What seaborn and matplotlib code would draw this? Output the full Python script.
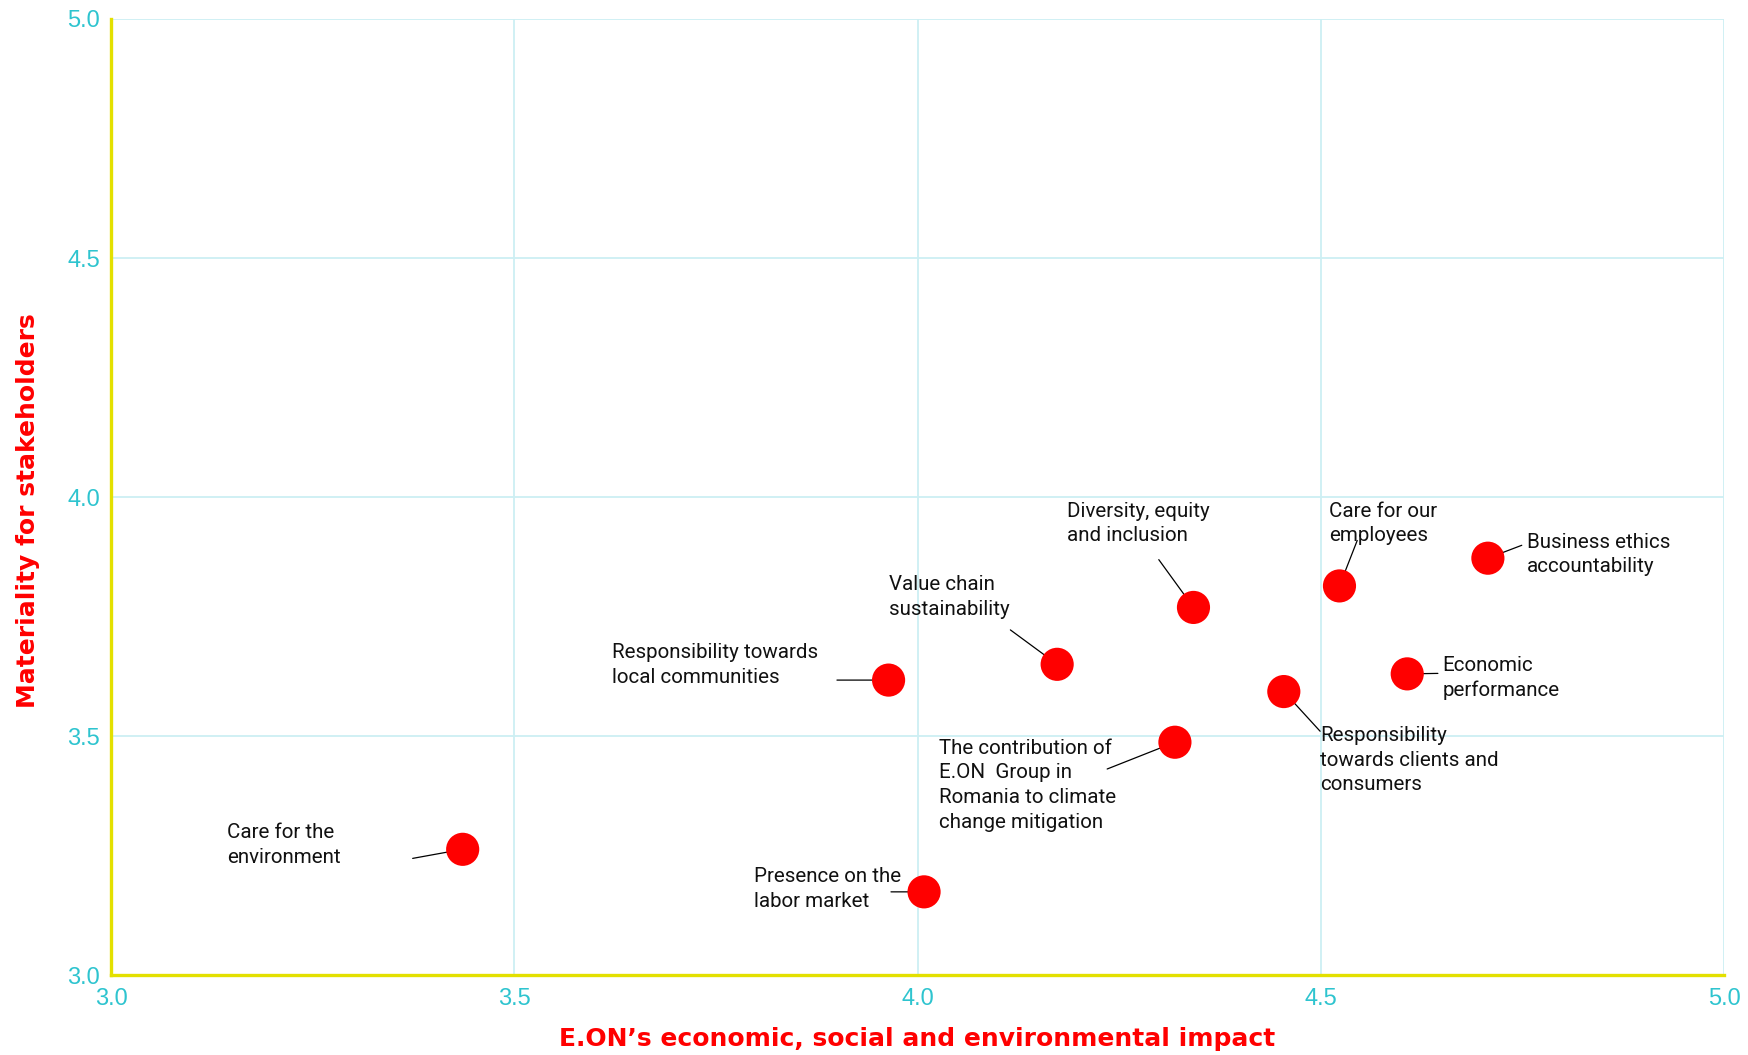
import matplotlib
matplotlib.use("Agg")
import matplotlib.pyplot as plt
import pandas as pd
import seaborn as sns

topics = [
    "Care for the\nenvironment",
    "Presence on the\nlabor market",
    "Responsibility towards\nlocal communities",
    "Value chain\nsustainability",
    "Diversity, equity\nand inclusion",
    "The contribution of\nE.ON  Group in\nRomania to climate\nchange mitigation",
    "Responsibility\ntowards clients and\nconsumers",
    "Care for our\nemployees",
    "Economic\nperformance",
    "Business ethics\naccountability",
]
impact = [3.436, 4.008, 3.964, 4.173, 4.342, 4.319, 4.454, 4.523, 4.607, 4.707]
materiality = [3.263, 3.174, 3.617, 3.650, 3.769, 3.487, 3.593, 3.814, 3.630, 3.872]

# label placement (top-left corner of text) and start of leader line
label_pos = [
    (3.144, 3.318), (3.797, 3.225), (3.621, 3.694), (3.965, 3.836),
    (4.185, 3.990), (4.026, 3.494), (4.499, 3.521), (4.510, 3.990),
    (4.651, 3.668), (4.755, 3.925),
]
line_start = [
    (3.374, 3.244), (3.967, 3.174), (3.900, 3.617), (4.115, 3.722),
    (4.299, 3.869), (4.235, 3.431), (4.499, 3.510), (4.545, 3.909),
    (4.645, 3.631), (4.749, 3.899),
]

df = pd.DataFrame({"topic": topics, "impact": impact, "materiality": materiality})

TICK_COLOR = "#2ec4cf"
GRID_COLOR = "#cdeff3"
AXIS_COLOR = "#e3e000"
RED = "#ff0000"

sns.set_style("white")
plt.rcParams["font.family"] = ["Roboto", "DejaVu Sans"]

fig = plt.figure(figsize=(17.48, 10.55), dpi=100)
ax = fig.add_axes([0.0635, 0.0758, 0.9229, 0.9062])

sns.scatterplot(
    data=df, x="impact", y="materiality", s=570, color=RED,
    edgecolor="none", ax=ax, zorder=3,
)

for i, txt in enumerate(topics):
    ax.annotate(
        "", xy=(impact[i], materiality[i]), xytext=line_start[i],
        arrowprops=dict(arrowstyle="-", color="black", lw=0.9,
                        shrinkA=0, shrinkB=11.5),
        zorder=2,
    )
    ax.text(label_pos[i][0], label_pos[i][1], txt, ha="left", va="top",
            fontsize=14.8, color="#111111", linespacing=1.37, zorder=4)

ax.set_xlim(3.0, 5.0)
ax.set_ylim(3.0, 5.0)
ax.set_xticks([3.0, 3.5, 4.0, 4.5, 5.0])
ax.set_yticks([3.0, 3.5, 4.0, 4.5, 5.0])
ax.set_xticklabels(["3.0", "3.5", "4.0", "4.5", "5.0"])
ax.set_yticklabels(["3.0", "3.5", "4.0", "4.5", "5.0"])
ax.grid(True, color=GRID_COLOR, lw=1.3)
ax.set_axisbelow(True)

for side in ["top", "right"]:
    ax.spines[side].set_visible(False)
for side in ["left", "bottom"]:
    ax.spines[side].set_color(AXIS_COLOR)
    ax.spines[side].set_linewidth(2.4)
    ax.spines[side].set_zorder(5)

ax.tick_params(axis="both", length=0, labelcolor=TICK_COLOR, labelsize=17)
ax.tick_params(axis="x", pad=9)
ax.tick_params(axis="y", pad=8)
for lab in ax.get_xticklabels() + ax.get_yticklabels():
    lab.set_family(["Liberation Sans", "DejaVu Sans"])

ax.set_xlabel("E.ON’s economic, social and environmental impact",
              color=RED, fontsize=18, fontweight="bold",
              family=["DejaVu Sans"])
ax.set_ylabel("Materiality for stakeholders", color=RED, fontsize=18,
              fontweight="bold", family=["DejaVu Sans"])
ax.xaxis.set_label_coords(0.5, -0.054)
ax.yaxis.set_label_coords(-0.044, 0.486)

fig.savefig("out.png", dpi=100)
